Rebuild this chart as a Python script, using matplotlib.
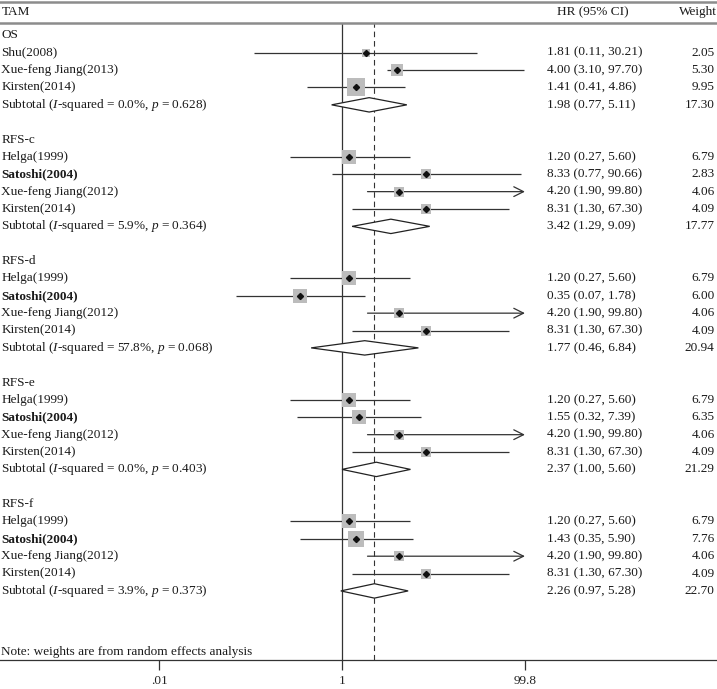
import matplotlib
matplotlib.use('Agg')
import matplotlib.pyplot as plt
import matplotlib.transforms as mtransforms
from matplotlib.lines import Line2D
from matplotlib.patches import Polygon, FancyArrowPatch
from matplotlib.ticker import FixedLocator, FixedFormatter, NullLocator

plt.rcParams['font.family'] = ['Liberation Serif', 'DejaVu Serif']
plt.rcParams['mathtext.fontset'] = 'custom'
plt.rcParams['mathtext.rm'] = 'Liberation Serif'
plt.rcParams['mathtext.it'] = 'Liberation Serif:italic'
plt.rcParams['mathtext.bf'] = 'Liberation Serif:bold'

# ---------------- data ----------------
groups = ['OS', 'RFS-c', 'RFS-d', 'RFS-e', 'RFS-f']
os_studies = ['Shu(2008)', 'Xue-feng Jiang(2013)', 'Kirsten(2014)']
rfs_studies = ['Helga(1999)', 'Satoshi(2004)', 'Xue-feng Jiang(2012)', 'Kirsten(2014)']
study_names = [os_studies, rfs_studies, rfs_studies, rfs_studies, rfs_studies]
bold_names = ['Satoshi(2004)']

hr = [[1.81, 4.00, 1.41],
      [1.20, 8.33, 4.20, 8.31],
      [1.20, 0.35, 4.20, 8.31],
      [1.20, 1.55, 4.20, 8.31],
      [1.20, 1.43, 4.20, 8.31]]
ci_low = [[0.11, 3.10, 0.41],
          [0.27, 0.77, 1.90, 1.30],
          [0.27, 0.07, 1.90, 1.30],
          [0.27, 0.32, 1.90, 1.30],
          [0.27, 0.35, 1.90, 1.30]]
ci_high = [[30.21, 97.70, 4.86],
           [5.60, 90.66, 99.80, 67.30],
           [5.60, 1.78, 99.80, 67.30],
           [5.60, 7.39, 99.80, 67.30],
           [5.60, 5.90, 99.80, 67.30]]
weights = [[2.05, 5.30, 9.95],
           [6.79, 2.83, 4.06, 4.09],
           [6.79, 6.00, 4.06, 4.09],
           [6.79, 6.35, 4.06, 4.09],
           [6.79, 7.76, 4.06, 4.09]]

sub_i2 = ['0.0', '5.9', '57.8', '0.0', '3.9']
sub_p = ['0.628', '0.364', '0.068', '0.403', '0.373']
sub_hr = [1.98, 3.42, 1.77, 2.37, 2.26]
sub_low = [0.77, 1.29, 0.46, 1.00, 0.97]
sub_high = [5.11, 9.09, 6.84, 5.60, 5.28]
sub_weight = [17.30, 17.77, 20.94, 21.29, 22.70]

overall_hr = 2.24
tick_values = [0.01, 1, 99.8]
tick_labels = ['.01', '1', '99.8']
header_label = 'TAM'
header_ci = 'HR (95% CI)'
header_weight = 'Weight'
note = 'Note: weights are from random effects analysis'

# ---------------- layout ----------------
W, H = 717, 689
row0_px, row_px = 35.4, 17.36
axis_px, header_line_px, top_line_px = 660.3, 22.7, 1.5
x_null_px, px_per_decade = 342.0, 91.5

def px_to_row(p):
    return (p - row0_px) / row_px

fig = plt.figure(figsize=(W / 100, H / 100), dpi=100)
ax = fig.add_axes([0, (H - axis_px) / H, 1, (axis_px - header_line_px) / H])
ax.set_xscale('log')
ax.set_xlim(10 ** (-x_null_px / px_per_decade), 10 ** ((W - x_null_px) / px_per_decade))
ax.set_ylim(px_to_row(axis_px), px_to_row(header_line_px))

for s in ['left', 'right']:
    ax.spines[s].set_visible(False)
ax.spines['top'].set_color('#8c8c8c')
ax.spines['top'].set_linewidth(1.8)
ax.spines['bottom'].set_color('#333333')
ax.spines['bottom'].set_linewidth(0.9)
ax.yaxis.set_major_locator(NullLocator())
ax.xaxis.set_major_locator(FixedLocator(tick_values))
ax.xaxis.set_major_formatter(FixedFormatter(tick_labels))
ax.xaxis.set_minor_locator(NullLocator())
ax.tick_params(axis='x', direction='out', length=7.5, width=0.9, color='#333333',
               labelsize=9.5, labelcolor='#222222', pad=3)

fig.add_artist(Line2D([0, 1], [1 - top_line_px / H] * 2, transform=fig.transFigure,
                      color='#8c8c8c', lw=1.8))

trans = mtransforms.blended_transform_factory(ax.transAxes, ax.transData)
fs = 9.5
tc = '#1a1a1a'
label_x = 1.5 / W
ci_x = 547 / W
w_x = 714.5 / W

ax.text(label_x, px_to_row(12.0), header_label, transform=trans, fontsize=fs, color=tc,
        va='center', ha='left', clip_on=False)
ax.text(593 / W, px_to_row(12.0), header_ci, transform=trans, fontsize=fs, color=tc,
        va='center', ha='center', clip_on=False)
ax.text(717 / W, px_to_row(12.0), header_weight, transform=trans, fontsize=fs, color=tc,
        va='center', ha='right', clip_on=False)

ax.axvline(1, color='#333333', lw=0.9, zorder=1)
ax.axvline(overall_hr, color='#333333', lw=0.8, ls=(0, (5, 3.5)), zorder=1)

xmax_tick = max(tick_values)
line_c = '#333333'
row = 0
for g, name in enumerate(groups):
    ax.text(label_x, row, name, transform=trans, fontsize=fs, color=tc, va='center', ha='left')
    row += 1
    for i, study in enumerate(study_names[g]):
        ax.text(label_x, row, study, transform=trans, fontsize=fs, color=tc, va='center',
                ha='left', fontweight='bold' if study in bold_names else 'normal')
        lo, hi, est, w = ci_low[g][i], ci_high[g][i], hr[g][i], weights[g][i]
        if hi >= xmax_tick:
            arr = FancyArrowPatch((lo, row), (xmax_tick, row),
                                  arrowstyle='->,head_length=0.7,head_width=0.35',
                                  mutation_scale=10, color=line_c, lw=0.9,
                                  shrinkA=0, shrinkB=0, zorder=2)
            ax.add_patch(arr)
        else:
            ax.plot([lo, hi], [row, row], color=line_c, lw=0.9, zorder=2, solid_capstyle='butt')
        ax.scatter([est], [row], marker='s', s=15.1 * w, color='#bcbcbc', linewidths=0, zorder=3)
        ax.plot([est], [row], marker='D', markersize=3.1, color='#111111', zorder=4)
        ax.text(ci_x, row, f'{est:.2f} ({lo:.2f}, {hi:.2f})', transform=trans, fontsize=fs,
                color=tc, va='center', ha='left')
        ax.text(w_x, row, f'{w:.2f}', transform=trans, fontsize=fs, color=tc,
                va='center', ha='right')
        row += 1
    ax.text(label_x, row, f'Subtotal ($I$-squared = {sub_i2[g]}%, $p$ = {sub_p[g]})',
            transform=trans, fontsize=fs, color=tc, va='center', ha='left')
    hh = 7.2 / row_px
    poly = Polygon([(sub_low[g], row), (sub_hr[g], row - hh), (sub_high[g], row),
                    (sub_hr[g], row + hh)], closed=True, facecolor='white',
                   edgecolor='#222222', lw=0.9, zorder=3)
    ax.add_patch(poly)
    ax.text(ci_x, row, f'{sub_hr[g]:.2f} ({sub_low[g]:.2f}, {sub_high[g]:.2f})',
            transform=trans, fontsize=fs, color=tc, va='center', ha='left')
    ax.text(w_x, row, f'{sub_weight[g]:.2f}', transform=trans, fontsize=fs, color=tc,
            va='center', ha='right')
    row += 2

ax.text(label_x, px_to_row(652.5), note, transform=trans, fontsize=fs, color=tc,
        va='center', ha='left')

fig.savefig('out.png', dpi=100, facecolor='white')
